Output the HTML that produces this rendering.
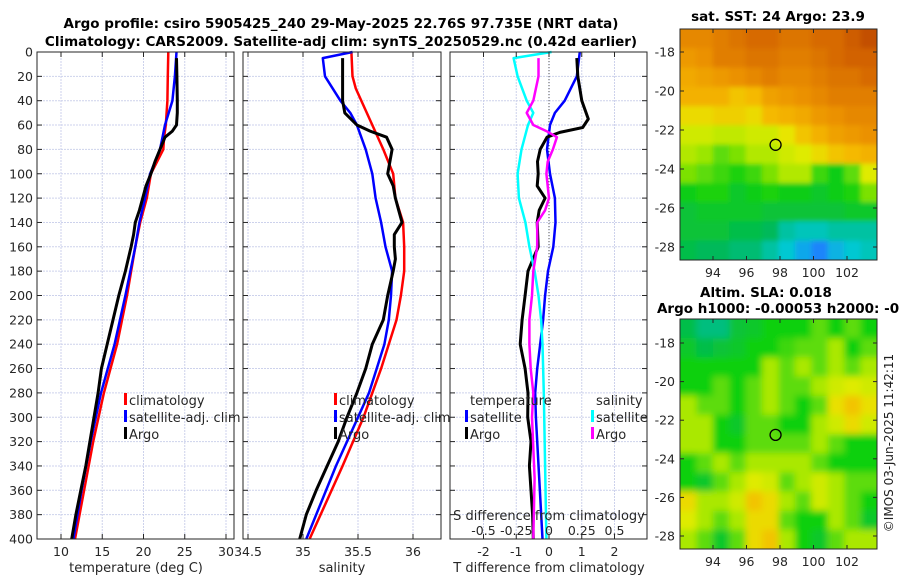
<!DOCTYPE html>
<html><head><meta charset="utf-8"><style>
html,body{margin:0;padding:0;background:#fff;}
svg{display:block;font-family:"DejaVu Sans","Liberation Sans",sans-serif;}
</style></head><body>
<svg id="fig" width="900" height="580" viewBox="0 0 900 580" xmlns="http://www.w3.org/2000/svg">
<defs>
<filter id="blur" x="0" y="0" width="1" height="1"><feGaussianBlur stdDeviation="3.5"/></filter>
<filter id="blur2" x="0" y="0" width="1" height="1"><feGaussianBlur stdDeviation="2.5"/></filter>
<clipPath id="clipM1"><rect x="680" y="29" width="197" height="231"/></clipPath>
<clipPath id="clipM2"><rect x="680" y="319" width="197" height="230"/></clipPath>
</defs>
<g font-weight="bold" font-size="13.5" text-anchor="middle" fill="#000">
<text x="341" y="28">Argo profile: csiro 5905425_240 29-May-2025 22.76S 97.735E (NRT data)</text>
<text x="341" y="46">Climatology: CARS2009. Satellite-adj clim: synTS_20250529.nc (0.42d earlier)</text>
<text x="778" y="21">sat. SST: 24 Argo: 23.9</text>
<text x="766" y="297">Altim. SLA: 0.018</text>
<text x="790" y="313">Argo h1000: -0.00053 h2000: -0.02</text>
</g>
<g id="plots"></g>
<text transform="translate(893,443) rotate(-90)" font-size="12" text-anchor="middle" fill="#222">©IMOS 03-Jun-2025 11:42:11</text>
</svg>
<script>
// ---------- profile data ----------
const climT_depth = [0,20,40,60,70,80,100,120,140,160,200,240,280,320,360,400];
const climT = [23.0,22.95,22.9,22.7,22.5,22.4,20.9,20.4,19.6,19.0,18.0,16.8,15.2,13.9,12.8,11.7];
const satT_depth = [0,20,40,60,70,80,100,120,140,160,200,240,280,320,360,400];
const satT = [24.0,23.8,23.5,22.6,22.3,22.0,20.8,20.2,19.5,19.0,17.8,16.5,14.85,13.6,12.5,11.5];
const argoT_depth = [5,20,40,50,60,65,70,75,80,90,100,110,120,130,140,150,160,180,200,220,240,260,280,300,320,340,360,380,400];
const argoT = [24.0,24.05,24.1,24.1,24.0,23.5,22.6,22.3,22.0,21.4,20.9,20.3,19.9,19.5,19.0,18.8,18.5,17.8,17.0,16.3,15.6,14.9,14.5,14.0,13.5,13.0,12.4,11.8,11.3];

const climS_depth = [0,20,30,60,80,100,120,140,160,180,200,220,240,260,280,300,340,400];
const climS = [35.44,35.45,35.48,35.63,35.73,35.82,35.84,35.91,35.92,35.92,35.89,35.85,35.78,35.71,35.63,35.55,35.36,35.06];
const satS_depth = [0,5,20,40,50,60,80,100,120,140,160,180,200,220,240,260,280,300,340,400];
const satS = [35.45,35.18,35.2,35.34,35.43,35.49,35.57,35.63,35.66,35.71,35.75,35.81,35.8,35.78,35.74,35.67,35.6,35.5,35.3,35.03];
const argoS_depth = [5,40,50,60,65,70,80,90,100,110,120,130,140,150,160,170,180,200,220,240,260,280,300,320,340,360,380,400];
const argoS = [35.36,35.36,35.38,35.49,35.61,35.76,35.81,35.79,35.77,35.82,35.84,35.87,35.9,35.83,35.83,35.84,35.82,35.77,35.73,35.63,35.57,35.49,35.4,35.32,35.22,35.12,35.03,34.97];

const dTsat_depth = [0,20,40,50,60,80,100,120,140,160,180,200,220,240,260,280,300,350,400];
const dTsat = [0.94,0.85,0.48,0.18,0.03,-0.06,0.03,0.18,0.2,0.13,-0.03,-0.12,-0.18,-0.27,-0.36,-0.42,-0.4,-0.3,-0.2];
const dTargo_depth = [5,20,40,55,62,66,70,80,90,100,110,120,130,140,160,180,200,220,240,260,280,300,320,340,360,380,400];
const dTargo = [0.85,0.88,1.0,1.2,1.03,0.33,-0.06,-0.27,-0.35,-0.33,-0.36,-0.12,-0.3,-0.36,-0.33,-0.64,-0.73,-0.82,-0.88,-0.73,-0.64,-0.65,-0.55,-0.6,-0.55,-0.5,-0.48];
const dSsat_depth = [0,5,20,40,50,60,80,100,120,140,160,180,200,220,240,280,340,400];
const dSsat = [0.02,-0.27,-0.24,-0.17,-0.12,-0.16,-0.21,-0.24,-0.23,-0.18,-0.15,-0.11,-0.08,-0.06,-0.05,-0.04,-0.03,-0.02];
const dSargo_depth = [5,20,40,50,60,65,70,80,90,100,120,130,140,160,180,200,220,240,260,280,300,350,400];
const dSargo = [-0.08,-0.08,-0.12,-0.17,-0.12,-0.02,0.06,0.03,-0.01,-0.02,0,-0.03,-0.09,-0.09,-0.12,-0.13,-0.15,-0.15,-0.14,-0.12,-0.13,-0.11,-0.12];

const depthTicks = [0,20,40,60,80,100,120,140,160,180,200,220,240,260,280,300,320,340,360,380,400];
const tempTicks = [10,15,20,25,30];
const salTicks = [34.5,35,35.5,36];
const dTTicks = [-2,-1,0,1,2];
const dSTicks = [-0.5,-0.25,0,0.25,0.5];
const dSTickLabels = ["-0.5","-0.25","0","0.25","0.5"];

// ---------- map data (normalised colour index 0..1) ----------
const sstGrid = [
[.84,.84,.86,.88,.9,.9,.88,.88,.9,.9,.93,.96],
[.8,.82,.86,.86,.88,.88,.86,.86,.88,.9,.92,.92],
[.76,.78,.8,.82,.84,.86,.84,.84,.86,.88,.88,.9],
[.74,.74,.74,.7,.72,.78,.8,.82,.84,.86,.86,.86],
[.66,.66,.68,.68,.66,.72,.74,.76,.8,.82,.84,.84],
[.6,.6,.58,.58,.6,.6,.64,.7,.74,.78,.8,.82],
[.56,.54,.5,.52,.56,.56,.6,.62,.66,.7,.72,.74],
[.52,.5,.48,.46,.48,.52,.56,.56,.48,.44,.5,.62],
[.44,.46,.46,.42,.44,.46,.44,.44,.42,.44,.46,.52],
[.4,.42,.42,.42,.42,.4,.4,.4,.4,.4,.42,.42],
[.4,.4,.4,.38,.38,.36,.3,.28,.28,.3,.3,.3],
[.38,.36,.36,.34,.34,.3,.26,.2,.14,.22,.26,.28]];
const slaGrid = [
[.38,.33,.33,.4,.42,.45,.45,.45,.5,.45,.5,.45],
[.42,.38,.4,.42,.45,.45,.48,.5,.5,.55,.45,.5],
[.45,.45,.45,.45,.45,.55,.5,.55,.5,.55,.5,.55],
[.45,.45,.5,.45,.5,.55,.5,.5,.55,.6,.62,.6],
[.55,.5,.5,.45,.5,.55,.5,.45,.5,.65,.7,.65],
[.55,.55,.45,.42,.5,.5,.45,.45,.55,.6,.66,.6],
[.55,.55,.45,.45,.5,.5,.5,.5,.55,.5,.45,.45],
[.45,.5,.55,.5,.55,.55,.55,.55,.5,.45,.45,.45],
[.45,.42,.5,.55,.62,.6,.5,.55,.6,.55,.5,.5],
[.66,.55,.55,.6,.7,.66,.55,.5,.6,.55,.5,.45],
[.62,.55,.5,.55,.66,.66,.5,.45,.45,.55,.5,.42],
[.55,.5,.42,.5,.66,.7,.55,.45,.42,.5,.55,.55]];
const lonTicks = [94,96,98,100,102];
const latTicks = [-18,-20,-22,-24,-26,-28];
const argoLon = 97.735, argoLat = -22.76;

const NS = "http://www.w3.org/2000/svg";
const root = document.getElementById('plots');
function mk(tag, attrs, parent){const e=document.createElementNS(NS,tag);for(const k in attrs)e.setAttribute(k,attrs[k]);(parent||root).appendChild(e);return e;}
function txt(x,y,s,anchor,size,parent){const t=mk('text',{x:x,y:y,'text-anchor':anchor||'middle','font-size':size||12,fill:'#262626'},parent);t.textContent=s;return t;}

const Y0=52, Y1=539;
const yD = d => Y0 + (Y1-Y0)*d/400;

function panel(name, x0, x1, xfn, ticks){
  const g = mk('g',{});
  
  
  mk('rect',{x:x0,y:Y0,width:x1-x0,height:Y1-Y0,fill:'#fff'},g);
  depthTicks.forEach(d=>{ if(d>0&&d<400) mk('line',{x1:x0,x2:x1,y1:yD(d),y2:yD(d),stroke:'#cdd2ec','stroke-width':1,'stroke-dasharray':'2,1'},g);});
  ticks.forEach(v=>{const x=xfn(v); mk('line',{x1:x,x2:x,y1:Y0,y2:Y1,stroke:'#cdd2ec','stroke-width':1,'stroke-dasharray':'2,1'},g);});
  return g;
}
function frame(g,x0,x1,xfn,ticks,tickLabels,leftLabels){
  mk('rect',{x:x0,y:Y0,width:x1-x0,height:Y1-Y0,fill:'none',stroke:'#262626','stroke-width':1},g);
  depthTicks.forEach(d=>{const y=yD(d);
    mk('line',{x1:x0,x2:x0+5,y1:y,y2:y,stroke:'#262626'},g);
    mk('line',{x1:x1-5,x2:x1,y1:y,y2:y,stroke:'#262626'},g);
    if(leftLabels){const t=txt(x0-4,y+4.5,String(d),'end',12.5,g);
      
      }
  });
  ticks.forEach((v,i)=>{const x=xfn(v);
    mk('line',{x1:x,x2:x,y1:Y1,y2:Y1-5,stroke:'#262626'},g);
    mk('line',{x1:x,x2:x,y1:Y0,y2:Y0+5,stroke:'#262626'},g);
    const t=txt(x,556,tickLabels?tickLabels[i]:String(v),'middle',12.5,g);
    
    
  });
}
function line(g, xs, ds, xfn, color, w, name){
  const p = xs.map((v,i)=>xfn(v).toFixed(1)+','+yD(ds[i]).toFixed(1)).join(' ');
  const pl = mk('polyline',{points:p,fill:'none',stroke:color,'stroke-width':w,'stroke-linejoin':'round'},g);
  
  
}
function legendItem(g,x,y,color,label,name){
  mk('rect',{x:x-5,y:y-12,width:3,height:12,fill:color},g);
  const t=txt(x,y,label,'start',13,g);
  
  
}

// Panel 1: temperature
const xT = v => 61 + 8.25*(v-10);
const g1 = panel('temperature-panel',37,234,xT,tempTicks);
line(g1,climT,climT_depth,xT,'#ff0000',2.5,'temp-climatology-line');
line(g1,satT,satT_depth,xT,'#0000ff',2.5,'temp-satellite-line');
line(g1,argoT,argoT_depth,xT,'#000000',3,'temp-argo-line');
frame(g1,37,234,xT,tempTicks,null,true);
legendItem(g1,129,405,'#ff0000','climatology','legend-climatology');
legendItem(g1,129,422,'#0000ff','satellite-adj. clim','legend-satellite-adj');
legendItem(g1,129,439,'#000000','Argo','legend-argo');
{const t=txt(136,572,'temperature (deg C)','middle',13,g1);

}

// Panel 2: salinity
const xS = v => 303 + 110*(v-35);
const g2 = panel('salinity-panel',243,441,xS,salTicks);
line(g2,climS,climS_depth,xS,'#ff0000',2.5,'sal-climatology-line');
line(g2,satS,satS_depth,xS,'#0000ff',2.5,'sal-satellite-line');
line(g2,argoS,argoS_depth,xS,'#000000',3,'sal-argo-line');
frame(g2,243,441,xS,salTicks,null,false);
legendItem(g2,339,405,'#ff0000','climatology','legend-climatology-2');
legendItem(g2,339,422,'#0000ff','satellite-adj. clim','legend-satellite-adj-2');
legendItem(g2,339,439,'#000000','Argo','legend-argo-2');
{const t=txt(342,572,'salinity','middle',13,g2);

}

// Panel 3: differences
const xD = v => 549 + 32.75*v;
const xDS = v => 549 + 131*v;
const g3 = panel('difference-panel',450,647,xD,dTTicks);
mk('line',{x1:549,x2:549,y1:Y0,y2:Y1,stroke:'#555','stroke-width':1,'stroke-dasharray':'1,2'},g3);
line(g3,dTsat,dTsat_depth,xD,'#0000ff',2.5,'dT-satellite-line');
line(g3,dTargo,dTargo_depth,xD,'#000000',3,'dT-argo-line');
line(g3,dSsat,dSsat_depth,xDS,'#00ffff',2.5,'dS-satellite-line');
line(g3,dSargo,dSargo_depth,xDS,'#ff00ff',2.5,'dS-argo-line');
frame(g3,450,647,xD,dTTicks,null,false);
{const t=txt(470,405,'temperature','start',13,g3);


const s=txt(596,405,'salinity','start',13,g3);

}
legendItem(g3,470,422,'#0000ff','satellite','legend-temp-satellite');
legendItem(g3,470,439,'#000000','Argo','legend-temp-argo');
legendItem(g3,596,422,'#00ffff','satellite','legend-sal-satellite');
legendItem(g3,596,439,'#ff00ff','Argo','legend-sal-argo');
{const t=txt(549,520,'S difference from climatology','middle',13,g3);

}
dSTicks.forEach((v,i)=>{const t=txt(xDS(v),535,dSTickLabels[i],'middle',12.5,g3);

});
{const t=txt(549,572,'T difference from climatology','middle',13,g3);

}

// ---------- maps ----------
const stops=[[0,[0,40,190]],[0.15,[30,140,255]],[0.26,[0,200,210]],[0.36,[0,185,90]],[0.45,[16,208,16]],[0.55,[170,232,0]],[0.63,[230,235,0]],[0.72,[245,185,0]],[0.82,[235,145,0]],[0.92,[210,98,0]],[1,[180,60,0]]];
function cmap(v){for(let i=1;i<stops.length;i++){if(v<=stops[i][0]){const a=stops[i-1],b=stops[i],t=(v-a[0])/(b[0]-a[0]);
return 'rgb('+a[1].map((c,k)=>Math.round(c+(b[1][k]-c)*t)).join(',')+')';}}return 'rgb(180,60,0)';}

function mapPanel(name, grid, bx, by, bw, bh, lat18y, lat28y, clip, titleMarker, filt){
  const g=mk('g',{});
  
  
  const inner=mk('g',{'clip-path':'url(#'+clip+')'},g);
  const img=mk('g',{filter:'url(#'+filt+')'},inner);
  const rows=grid.length, cols=grid[0].length;
  const cw=bw/cols, ch=bh/rows;
  for(let r=-1;r<=rows;r++)for(let c=-1;c<=cols;c++){
    const rr=Math.min(rows-1,Math.max(0,r)), cc=Math.min(cols-1,Math.max(0,c));
    mk('rect',{x:bx+c*cw,y:by+r*ch,width:cw+0.6,height:ch+0.6,fill:cmap(grid[rr][cc])},img);
  }
  const lonX = lon => 713 + (lon-94)*16.75;
  const latY = lat => lat18y + (lat+18)/(-10)*(lat28y-lat18y);
  mk('rect',{x:bx,y:by,width:bw,height:bh,fill:'none',stroke:'#262626','stroke-width':1},g);
  lonTicks.forEach(l=>{const x=lonX(l);
    mk('line',{x1:x,x2:x,y1:by+bh,y2:by+bh-4,stroke:'#262626'},g);
    mk('line',{x1:x,x2:x,y1:by,y2:by+4,stroke:'#262626'},g);
    const t=txt(x,by+bh+17,String(l),'middle',12.5,g);
    
    });
  latTicks.forEach(l=>{const y=latY(l);
    mk('line',{x1:bx,x2:bx+4,y1:y,y2:y,stroke:'#262626'},g);
    mk('line',{x1:bx+bw-4,x2:bx+bw,y1:y,y2:y,stroke:'#262626'},g);
    const t=txt(bx-5,y+4.5,String(l),'end',12.5,g);
    
    });
  const m=mk('circle',{cx:lonX(argoLon),cy:latY(argoLat),r:5.5,fill:'none',stroke:'#000','stroke-width':1.3},g);
  
  
}
mapPanel('sst-map',sstGrid,680,29,197,231,52,247,'clipM1','sst-argo-marker','blur2');
mapPanel('sla-map',slaGrid,680,319,197,230,343,536,'clipM2','sla-argo-marker','blur');
</script>
</body></html>
